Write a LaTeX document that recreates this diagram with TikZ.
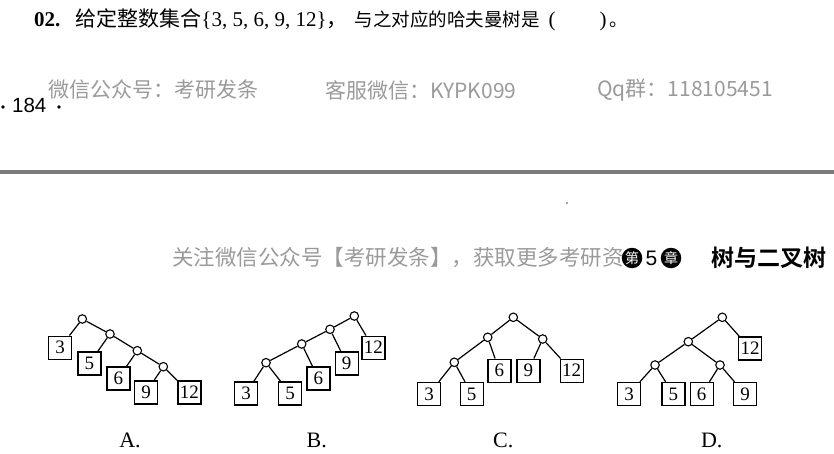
\documentclass[tikz,border=0pt]{standalone}
\usepackage{fontspec}
\usepackage{tikz}
\setmainfont{Liberation Serif}
\newfontfamily\cjk{Noto Sans CJK SC}
\newfontfamily\cjkbold{Noto Sans CJK SC Bold}
\newfontfamily\pagefont{Liberation Sans}
\definecolor{wmgray}{HTML}{9A9A9A}
\definecolor{rulegray}{HTML}{7A7A7A}
\tikzset{
	leaf/.style={draw, line width=1.4pt, minimum width=23pt, minimum height=23pt, inner sep=0pt, font=\fontsize{19}{19}\selectfont},
	inner/.style={circle, draw, line width=1.1pt, minimum size=8.5pt, inner sep=0pt},
	edge/.style={line width=1.2pt},
	opt/.style={font=\fontsize{22}{22}\selectfont},
	wm/.style={text=wmgray, inner sep=0pt, font=\cjk\fontsize{21}{21}\selectfont},
	chap/.style={circle, fill=black, text=white, minimum size=20.5pt, inner sep=0pt, font=\cjk\fontsize{14}{14}\selectfont}
}
\begin{document}
\begin{tikzpicture}[x=1pt, y=-1pt]
	\useasboundingbox (0,0) rectangle (834,454);

	\node[anchor=west, inner sep=0pt, font=\fontsize{21}{21}\selectfont] (question) at (34,20) {\textbf{02.}\hspace{15pt}{\cjk 给定整数集合}\{3, 5, 6, 9, 12\}{\cjk ，}\hspace{7pt}{\cjk\fontsize{18.5}{18.5}\selectfont 与之对应的哈夫曼树是}\hspace{9pt}(\hspace{44pt})\hspace{3pt}{\cjk\fontsize{18.5}{18.5}\selectfont 。}};

	\node[wm, anchor=west] (wm1) at (48,90) {微信公众号：考研发条};
	\node[wm, anchor=west] (wm2) at (325,90) {客服微信：KYPK099};
	\node[wm, anchor=west] (wm3) at (597,90) {Qq群：118105451};
	\node[anchor=west, inner sep=0pt, font=\pagefont\fontsize{20.5}{20.5}\selectfont] (page) at (12,105) {184};
	\fill (3,107) circle (1.8);
	\fill (59,107) circle (1.8);

	\fill[rulegray] (0,170.5) rectangle (834,174);
	\fill[black!70] (567,203) circle (0.9);

	\node[wm, anchor=west, font=\cjk\fontsize{21.5}{21.5}\selectfont] (head) at (172,258) {关注微信公众号【考研发条】，获取更多考研资};
	\node[chap] (chapA) at (632,258) {第};
	\node[inner sep=0pt, font=\pagefont\fontsize{21}{21}\selectfont] (chapnum) at (651.5,258) {5};
	\node[chap] (chapB) at (671,258) {章};
	\node[anchor=west, inner sep=0pt, font=\cjkbold\fontsize{23}{23}\selectfont] (title) at (711,258) {树与二叉树};

	\node[inner] (Ar) at (82.3,319) {};
	\node[inner] (Aa) at (110,334) {};
	\node[inner] (Ab) at (137.3,350.7) {};
	\node[inner] (Ac) at (163.3,366.7) {};
	\node[leaf] (A3) at (60,347.7) {3};
	\node[leaf] (A5) at (89.3,363.3) {5};
	\node[leaf] (A6) at (118.3,378.3) {6};
	\node[leaf] (A9) at (146,392.3) {9};
	\node[leaf] (A12) at (189.3,392.3) {12};
	\draw[edge] (Ar) -- (A3) (Ar) -- (Aa) (Aa) -- (A5) (Aa) -- (Ab) (Ab) -- (A6) (Ab) -- (Ac) (Ac) -- (A9) (Ac) -- (A12);
	\node[opt] (optA) at (130,440) {A.};

	\node[inner] (Br) at (354.3,316) {};
	\node[inner] (Ba) at (330,329.3) {};
	\node[inner] (Bb) at (301.7,344) {};
	\node[inner] (Bc) at (266,362.7) {};
	\node[leaf] (B12) at (373.3,347.7) {12};
	\node[leaf] (B9) at (346.7,363.3) {9};
	\node[leaf] (B6) at (318.3,378.3) {6};
	\node[leaf] (B3) at (246,393.3) {3};
	\node[leaf] (B5) at (290,393.3) {5};
	\draw[edge] (Br) -- (B12) (Br) -- (Ba) (Ba) -- (B9) (Ba) -- (Bb) (Bb) -- (B6) (Bb) -- (Bc) (Bc) -- (B3) (Bc) -- (B5);
	\node[opt] (optB) at (316.7,440) {B.};

	\node[inner] (Cr) at (513.3,317.3) {};
	\node[inner] (Ca) at (487.7,337.3) {};
	\node[inner] (Cb) at (542.7,339) {};
	\node[inner] (Cc) at (454.3,362.3) {};
	\node[leaf] (C3) at (429,394) {3};
	\node[leaf] (C5) at (471.7,394) {5};
	\node[leaf] (C6) at (499.3,370.7) {6};
	\node[leaf] (C9) at (528.3,370.7) {9};
	\node[leaf] (C12) at (571.7,370.7) {12};
	\draw[edge] (Cr) -- (Ca) (Cr) -- (Cb) (Ca) -- (Cc) (Ca) -- (C6) (Cb) -- (C9) (Cb) -- (C12) (Cc) -- (C3) (Cc) -- (C5);
	\node[opt] (optC) at (503.3,440) {C.};

	\node[inner] (Dr) at (722.3,317.3) {};
	\node[inner] (Da) at (688.3,341.7) {};
	\node[inner] (Db) at (655,365) {};
	\node[inner] (Dc) at (720,365) {};
	\node[leaf] (D12) at (750,348.3) {12};
	\node[leaf] (D3) at (629,394) {3};
	\node[leaf] (D5) at (673.3,394) {5};
	\node[leaf] (D6) at (701.7,394) {6};
	\node[leaf] (D9) at (745,394) {9};
	\draw[edge] (Dr) -- (Da) (Dr) -- (D12) (Da) -- (Db) (Da) -- (Dc) (Db) -- (D3) (Db) -- (D5) (Dc) -- (D6) (Dc) -- (D9);
	\node[opt] (optD) at (711.7,440) {D.};
\end{tikzpicture}
\end{document}
